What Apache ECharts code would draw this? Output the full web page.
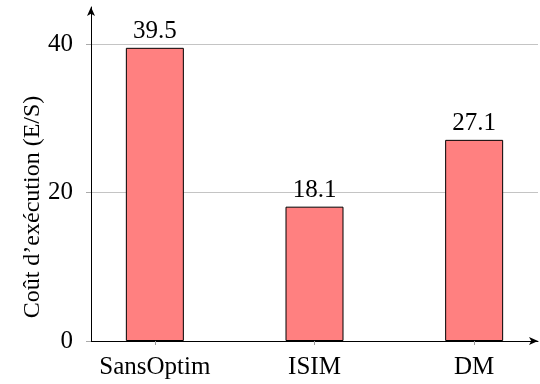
<!DOCTYPE html>
<html><head><meta charset="utf-8">
<script src="https://cdn.jsdelivr.net/npm/echarts@6/dist/echarts.min.js"></script>
<style>html,body{margin:0;padding:0;background:#fff}#c{width:540px;height:384px}</style>
</head><body><div id="c"></div>
<script>
const categories = ['SansOptim', 'ISIM', 'DM'];
const values = [39.5, 18.1, 27.1];
const yTicks = [0, 20, 40];
const yAxisTitle = "Coût d’exécution (E/S)";

const FONT = '"Liberation Serif", serif';
const chart = echarts.init(document.getElementById('c'), null, {renderer: 'canvas'});
chart.setOption({
  animation: false,
  grid: {left: 91, right: 2, top: 7, bottom: 43},
  xAxis: {
    type: 'value', min: -0.4, max: 2.4,
    axisLine: {onZero: false, lineStyle: {color: '#000', width: 1}, symbol: ['none', 'arrow'], symbolSize: [6, 9]},
    axisTick: {show: true, customValues: [0, 1, 2], length: 4, lineStyle: {color: '#999'}},
    axisLabel: {customValues: [0, 1, 2], formatter: v => categories[Math.round(v)] || '', color: '#000', fontFamily: FONT, fontSize: 25, margin: 14},
    splitLine: {show: false}
  },
  yAxis: {
    type: 'value', min: 0, max: 45,
    axisLine: {show: true, onZero: false, lineStyle: {color: '#000', width: 1}, symbol: ['none', 'arrow'], symbolSize: [6, 9]},
    axisTick: {show: true, customValues: yTicks, length: 5, lineStyle: {color: '#aaa'}},
    axisLabel: {customValues: yTicks, color: '#000', fontFamily: FONT, fontSize: 25, margin: 18},
    splitLine: {show: true, customValues: yTicks, lineStyle: {color: '#c4c4c4', width: 1}},
    name: yAxisTitle, nameLocation: 'middle', nameGap: 46, nameRotate: 90, nameMoveOverlap: false,
    nameTextStyle: {color: '#000', fontFamily: FONT, fontSize: 24, padding: [0, 66, 0, 0]}
  },
  series: [{
    type: 'bar',
    data: values.map((v, i) => [i, v]),
    barWidth: 58,
    itemStyle: {color: '#ff8080', borderColor: '#000', borderWidth: 1},
    label: {show: true, position: 'top', distance: 4, color: '#000', fontFamily: FONT, fontSize: 25, formatter: p => p.value[1].toFixed(1)}
  }]
});
</script></body></html>
